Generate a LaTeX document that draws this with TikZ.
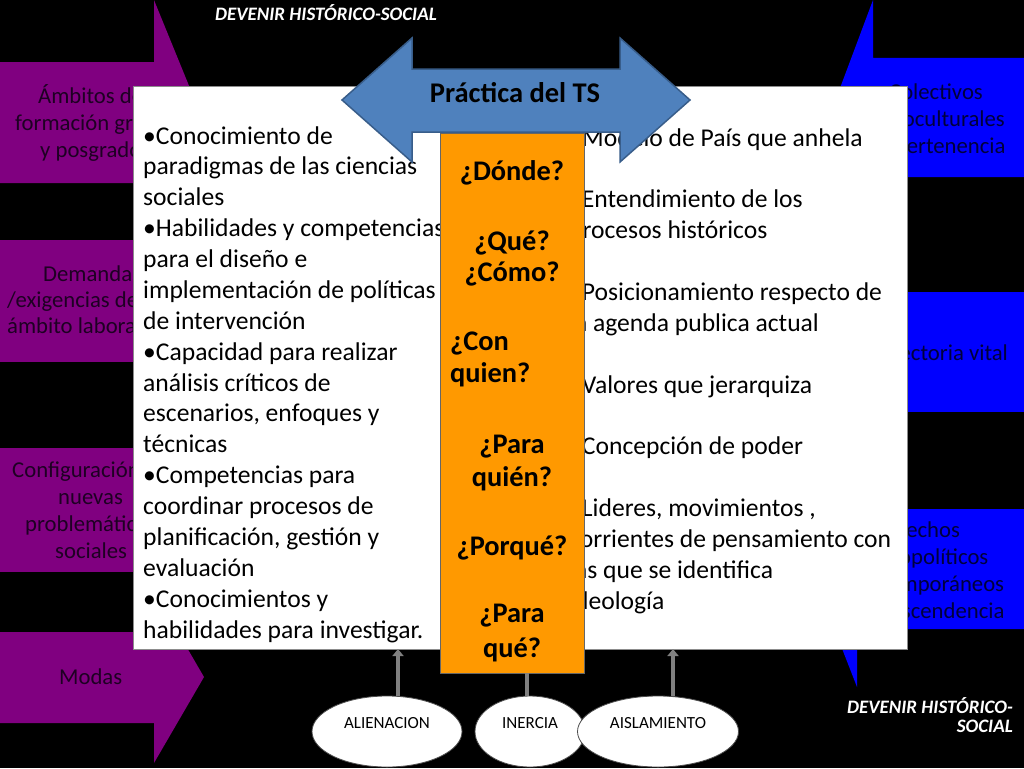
\documentclass[tikz,border=0pt]{standalone}
\usepackage{fontspec}
\setmainfont{Carlito}
\usetikzlibrary{arrows.meta,shapes.geometric,calc}
\definecolor{pur}{RGB}{128,0,128}
\definecolor{blu}{RGB}{0,0,255}
\definecolor{org}{RGB}{255,153,0}
\definecolor{arrblue}{RGB}{79,129,189}
\definecolor{arrborder}{RGB}{56,93,138}
\definecolor{ptext}{RGB}{30,0,35}
\definecolor{btext}{RGB}{0,0,60}
\definecolor{garr}{RGB}{128,128,128}
\begin{document}
\begin{tikzpicture}[x=1pt,y=-1pt,
  sidep/.style={anchor=base west,inner sep=0pt,text=ptext,font=\fontsize{22.7}{27}\selectfont},
  sideb/.style={anchor=base,inner sep=0pt,text=btext,font=\fontsize{22.7}{27}\selectfont},
  bodytext/.style={anchor=base west,inner sep=0pt,text=black,font=\fontsize{25.6}{30.9}\selectfont},
  qtext/.style={anchor=base,inner sep=0pt,text=black,font=\fontsize{28.4}{33}\selectfont\bfseries},
  qleft/.style={qtext,anchor=base west},
  ellnode/.style={ellipse,draw=black!70,line width=0.8pt,fill=white,minimum height=71pt,inner sep=0pt,
    text height=12pt,text depth=18pt,font=\fontsize{17}{20}\selectfont},
  grayarrow/.style={draw=garr,line width=4pt,-{Triangle[width=11pt,length=7pt]}},
  grayline/.style={draw=garr,line width=4pt},
  devenir/.style={inner sep=0pt,text=white,font=\fontsize{19}{22}\selectfont\bfseries\itshape}
]
\useasboundingbox (0,0) rectangle (1024,768);
\fill[black] (0,0) rectangle (1024,768);

% purple arrows (left)
\fill[pur] (0,62) -- (154,62) -- (154,0) -- (204,122.5) -- (154,245) -- (154,183) -- (0,183) -- cycle;
\fill[pur] (0,240) rectangle (200,362);
\fill[pur] (0,448) rectangle (200,572);
\fill[pur] (0,632) -- (154,632) -- (154,591) -- (204,677) -- (154,763) -- (154,723) -- (0,723) -- cycle;

% blue arrows (right)
\fill[blu] (1024,58) -- (873,58) -- (873,0) -- (829,117.5) -- (873,235) -- (873,177) -- (1024,177) -- cycle;
\fill[blu] (860,292) rectangle (1024,412);
\fill[blu] (1024,509) -- (857,509) -- (857,451) -- (811,569) -- (857,687) -- (857,629) -- (1024,629) -- cycle;

% purple texts
\node[sidep] (p1a) at (38,103) {Ámbitos de};
\node[sidep] (p1b) at (15,130) {formación grado};
\node[sidep] (p1c) at (40,157) {y posgrado};
\node[sidep] (p2a) at (43,281) {Demandas};
\node[sidep] (p2b) at (7,307) {/exigencias del};
\node[sidep] (p2c) at (7,333) {ámbito laboral};
\node[sidep] (p3a) at (12,477) {Configuración};
\node[sidep] (p3b) at (58,504) {nuevas};
\node[sidep] (p3c) at (25,531) {problemáticas};
\node[sidep] (p3d) at (55,558) {sociales};
\node[sidep] (p4a) at (59,684) {Modas};

% blue texts
\node[sideb] (b1a) at (936,99) {Colectivos};
\node[sideb] (b1b) at (936,126) {socioculturales};
\node[sideb] (b1c) at (936,153) {de pertenencia};
\node[sideb] (b2a) at (935,360) {Trayectoria vital};
\node[sideb] (b3a) at (926,537) {Hechos};
\node[sideb] (b3b) at (926,564) {sociopolíticos};
\node[sideb] (b3c) at (926,591) {contemporáneos};
\node[sideb] (b3d) at (926,618) {de trascendencia};

% white box
\node[draw=black!45,line width=0.8pt,fill=white,anchor=north west,inner sep=0pt,outer sep=0pt,
  minimum width=774pt,minimum height=563pt] (whitebox) at (133,86) {};

% left text
\foreach \t [count=\i from 0] in {{•Conocimiento de},{paradigmas de las ciencias},{sociales},
  {•Habilidades y competencias},{para el diseño e},{implementación de políticas},{de intervención},
  {•Capacidad para realizar},{análisis críticos de},{escenarios, enfoques y},{técnicas},
  {•Competencias para},{coordinar procesos de},{planificación, gestión y},{evaluación},
  {•Conocimientos y},{habilidades para investigar.}}
  \node[bodytext] (L\i) at (143,144+30.875*\i) {\t};

% right text
\foreach \i/\t in {0/{•Modelo de País que anhela},2/{•Entendimiento de los},3/{procesos históricos},
  5/{•Posicionamiento respecto de},6/{la agenda publica actual},8/{•Valores que jerarquiza},
  10/{•Concepción de poder},12/{•Lideres, movimientos ,},13/{corrientes de pensamiento con},
  14/{las que se identifica},15/{ideología}}
  \node[bodytext] (R\i) at (569,146+30.875*\i) {\t};

% orange box
\node[draw=black!60,line width=0.8pt,fill=org,anchor=north west,inner sep=0pt,outer sep=0pt,
  minimum width=144pt,minimum height=540pt] (orange) at (440,133) {};
\node[qtext] (q1) at (512,180) {¿Dónde?};
\node[qtext] (q2) at (512,250) {¿Qué?};
\node[qtext] (q3) at (512,281) {¿Cómo?};
\node[qleft] (q4) at (450,350) {¿Con};
\node[qleft] (q5) at (450,382) {quien?};
\node[qtext] (q6) at (512,453) {¿Para};
\node[qtext] (q7) at (512,486) {quién?};
\node[qtext] (q8) at (512,555) {¿Porqué?};
\node[qtext] (q9) at (512,622) {¿Para};
\node[qtext] (q10) at (512,657) {qué?};

% double arrow
\filldraw[fill=arrblue,draw=arrborder,line width=1.5pt,line join=miter]
  (342,100) -- (412,38) -- (412,69) -- (620,69) -- (620,38) -- (690,100)
  -- (620,162) -- (620,132) -- (412,132) -- (412,162) -- cycle;
\node[anchor=base,inner sep=0pt,font=\fontsize{28.5}{32}\selectfont\bfseries] (practica) at (515,102) {Práctica del TS};

% ellipses
\node[ellnode,minimum width=150pt] (alien) at (387,731.5) {ALIENACION};
\node[ellnode,minimum width=110pt] (inercia) at (530,731.5) {INERCIA};
\node[ellnode,minimum width=161pt] (aisl) at (658,731.5) {AISLAMIENTO};

% connectors
\draw[grayarrow] ([xshift=11pt]alien.north) -- ([xshift=11pt]alien.north |- whitebox.south);
\draw[grayline] ([xshift=-3pt]inercia.north) -- ([xshift=-3pt]inercia.north |- orange.south);
\draw[grayarrow] ([xshift=15pt]aisl.north) -- ([xshift=15pt]aisl.north |- whitebox.south);

% labels
\node[devenir,anchor=base] (devtop) at (326,21) {DEVENIR HISTÓRICO-SOCIAL};
\node[devenir,anchor=base east] (devbot1) at (1013,713) {DEVENIR HISTÓRICO-};
\node[devenir,anchor=base east] (devbot2) at (1013,732) {SOCIAL};
\end{tikzpicture}
\end{document}
